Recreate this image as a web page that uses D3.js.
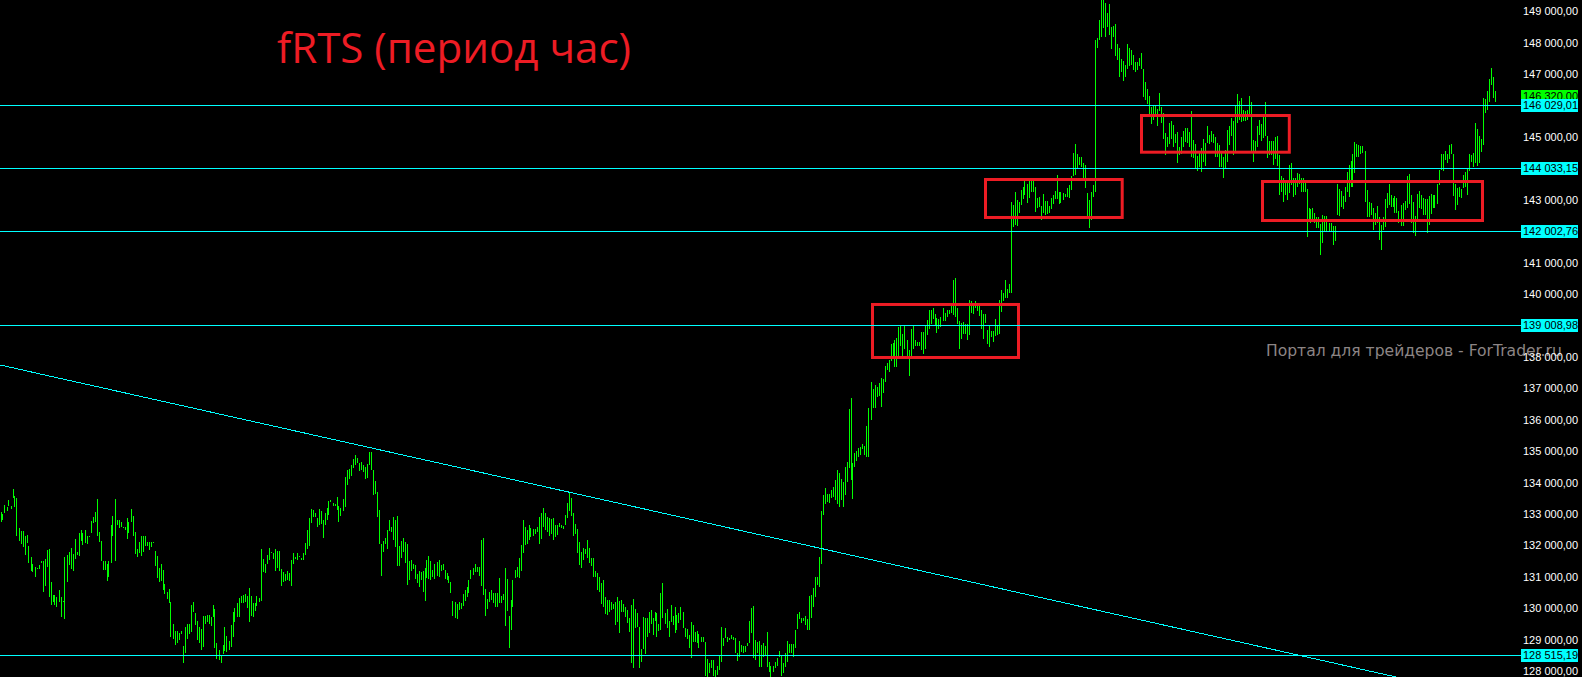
<!DOCTYPE html>
<html>
<head>
<meta charset="utf-8">
<script src="https://cdn.jsdelivr.net/npm/d3@7"></script>
<style>
  html, body { margin: 0; padding: 0; background: #000; overflow: hidden; }
  svg { display: block; }
</style>
</head>
<body>
<svg id="chart" width="1582" height="677"></svg>
<script>
// fRTS hourly bars: high and low of each bar, oldest first
const highs = [
  133070,133000,133290,133240,133450,133260,133790,133580,133530,132550,
  132470,132450,132300,132340,131990,131650,131430,131310,131300,131380,
  131520,131520,131580,131860,131890,130830,130440,130430,130370,130590,
  130350,130240,131650,131700,131800,131910,131730,132200,131790,132410,
  132500,132410,132500,132300,132300,132780,132900,133070,133480,132430,
  132160,131510,131520,131410,131510,132650,132940,133480,132810,132810,
  132750,132600,132580,132870,132760,133180,132940,132420,131890,132120,
  132300,132300,132300,132120,132120,132120,132110,131830,131680,131300,
  131410,131220,130780,130530,130620,130200,129500,129290,129280,129230,
  129270,128800,129400,129500,129500,130110,130190,129860,129600,129420,
  129340,129760,129760,129790,129790,129740,130110,129980,128890,128680,
  128500,128830,129410,129120,128970,129470,129890,130000,130160,130330,
  130390,130430,130460,130410,130650,130410,130180,130180,130390,130340,
  131890,131570,131430,131690,131930,131790,131750,131890,131830,131830,
  131270,131170,131090,131190,131140,131540,131750,131650,131750,131670,

  131620,131780,132070,132500,132880,133170,133130,133030,132880,133170,
  133100,132820,133030,133190,133420,133450,133350,133330,133560,133260,
  133190,133480,134190,134410,134440,134570,134760,134880,134780,134620,
  134660,134570,134510,134600,134980,134980,134410,134060,133710,133130,
  132050,132150,132240,132510,132820,132600,132900,132820,132940,131990,
  132150,132240,132130,132050,131520,131540,131410,131380,131100,131190,
  131150,131200,131300,131540,131670,131510,131240,131410,131490,131540,
  131380,131400,131220,131120,131040,130840,130240,130210,130140,130190,
  130180,130460,130590,130690,130910,131240,131300,131400,131330,131310,
  132180,132250,130610,130300,130520,130590,130480,130480,130480,130960,
  130400,130450,131280,130940,129760,130270,130910,131220,131330,131620,
  132020,132820,132600,132500,132660,132570,132540,132530,132600,132920,
  133050,133200,133050,132920,132880,132860,132870,132660,132660,132710,
  132660,132630,132990,133350,133700,133500,133030,132690,132520,132100,
  131800,131910,131890,132180,131910,131610,131610,131190,131120,131010,

  130820,130910,130350,130270,130270,130220,130140,130220,130360,130250,
  130270,130140,130060,129950,129690,130110,130290,129970,129870,129420,
  128710,129740,129710,129690,129900,129950,129710,129880,129850,129510,
  130480,130820,129850,129980,129610,130110,129770,130060,129780,129850,
  130060,129900,129370,129340,129160,129560,129480,129260,129280,129180,
  129080,129080,128920,128380,128280,128360,128360,128040,128170,128520,
  129400,129050,129370,129100,129070,129160,129100,129050,128570,128970,
  128840,128790,128790,128890,129600,130000,130080,128990,128940,128970,
  128840,128890,128820,129260,128310,128170,128180,128310,128430,128650,
  128520,128250,128590,128980,128870,128870,128870,129320,129830,129880,
  129690,129710,129770,129660,130400,130430,130640,131010,131010,131630,
  133100,133610,133830,133640,133640,133770,133860,134090,134410,134320,
  134110,134010,134510,134650,136350,136690,134640,134940,135020,135100,
  135150,135240,135180,135810,136370,137220,136980,137110,137040,137170,
  137330,137300,137720,137800,137910,138420,138460,138530,138610,138970,

  139020,138750,138990,138540,138220,138890,138990,138540,138490,138490,
  138800,138800,138990,139180,139500,139500,139570,139370,139260,139200,
  139280,139550,139390,139500,139500,139650,140460,140510,139570,139150,
  139090,139110,139050,139050,139810,139780,139710,139780,139620,139620,
  139500,139360,139370,138860,138990,138840,138830,139210,138990,139810,
  140130,140030,140460,140180,140340,142950,
  142850,143270,143000,142950,143320,143410,143590,143510,143590,143610,
  143590,143430,143080,143110,142810,143200,142970,142970,142810,143060,
  143160,143290,143800,143240,143240,143220,143200,143380,143480,143750,
  144510,144790,144470,144380,144360,144170,144120,143220,143000,143250,
  143470,148100,148150,148730,
  149400,149400,149260,148950,149240,148520,148540,148610,147970,147830,
  147480,147430,147300,147970,147830,147780,147620,147400,147380,147510,
  147670,147160,146750,146530,146310,145970,145990,145990,145890,146400,
  145950,145760,145130,145020,145440,145530,145390,145100,145180,144700,
  145020,145200,145300,145300,145160,145840,144910,144790,144400,144490,

  144650,144950,144830,145360,145070,145200,145100,145000,144810,144750,
  144490,
  144380,144600,145230,145360,145600,145520,145990,146380,146150,146240,
  145870,145820,145870,146310,146130,144910,144880,145360,145550,145420,
  145630,146110,145040,144880,144880,144880,144990,145040,144440,143750,
  143690,143530,143640,144120,144170,143690,143690,143850,143830,143690,
  143690,143560,143340,142740,142720,142740,142580,142450,142450,142240,
  142530,142490,142490,142260,142260,142160,142160,143510,143340,143290,
  143130,143410,143900,144120,144250,144460,144840,144780,144750,144720,
  144720,144560,143320,142930,142900,142740,142580,142810,142450,142210,
  142470,
  143030,143220,143510,143160,143080,143130,143080,142650,142840,142900,
  142980,143770,143830,143160,142950,142490,143180,143290,143160,143080,
  143030,143030,143130,143180,143160,143160,143510,143960,144460,144460,
  144560,144470,144750,144790,144460,143510,143370,143410,143350,143800,
  143900,143980,144460,144440,144510,145440,145260,145040,144940,146260,
  146210,146470,146860,147210,146930,146470
];

const lows = [
  132760,132810,133050,133110,133260,133170,133520,133240,132300,132160,
  132050,131970,131700,132090,131460,131200,131170,131010,131260,131270,
  131460,130530,130720,131330,130350,130120,130220,130110,130060,130210,
  129740,130200,129670,130850,131380,131270,131200,131570,131700,131680,
  132160,132020,132070,132050,132280,132410,132710,132760,132300,132120,
  131520,131220,131240,130880,131010,131460,132300,131510,132650,132550,
  132580,132550,132500,132220,132410,132760,132300,131730,131630,131770,
  131680,131800,131990,131990,131860,131970,132090,131350,130980,130850,
  130880,130590,130460,130300,130180,129100,129030,128850,128910,129000,
  129190,128250,128590,129020,129190,129260,129880,129470,129000,128890,
  128680,128780,129500,129580,129490,129440,129740,128750,128390,128360,
  128250,128540,128650,128610,128680,128780,129100,129580,129720,129740,
  130180,130160,130190,130010,129580,129760,129720,129930,130090,130200,
  130250,131170,131120,131410,131540,131750,131580,131200,131290,131200,
  130720,130850,130880,130900,130880,130720,131410,131560,131540,131650,

  131540,131540,131700,131890,131990,132710,132900,132900,132590,132660,
  132690,132240,132660,132820,132970,133390,133260,133260,133130,132750,
  132940,133110,133240,133930,134110,134230,134480,134570,134620,134370,
  134410,134330,134120,134140,134570,134410,133610,133630,132920,132050,
  131040,131810,132050,131890,132480,132440,132180,131970,131360,131360,
  131620,131790,131440,130750,130910,131200,131260,130940,130800,130690,
  130910,130520,130240,130980,130940,130910,131010,130940,131040,131010,
  131200,131220,130940,130910,130820,130500,129770,129710,129650,129950,
  129990,130090,130250,130370,130500,130930,131060,131170,131170,131040,
  130730,130440,129770,129980,130220,130270,130160,130060,130060,130160,
  130160,130270,129450,129930,128750,129310,130060,130960,131010,130960,
  131200,131780,132020,132050,132180,132260,132300,132370,132440,132050,
  132200,132580,132500,132440,132320,132370,132180,132280,132340,132580,
  132550,132520,132660,132870,133110,132940,132310,132370,131780,131380,
  131300,131540,131730,131620,131440,131350,131010,130990,130590,130530,

  130140,130060,129830,129790,129900,129950,129980,129470,129580,129210,
  129900,129900,129740,129530,129260,128250,128120,129370,129400,128100,
  128310,128700,128540,129100,129230,129500,129160,129610,129100,129290,
  129320,129710,129510,129370,129100,129580,129470,129230,129320,129530,
  129630,129370,129100,129020,128730,128430,128940,128940,128890,128730,
  128920,128920,127860,127830,127960,128120,127860,127830,127880,128040,
  128310,128790,129050,128920,128990,129030,128990,128570,128340,128470,
  128630,128570,128600,128790,128890,129210,128410,128360,128570,128150,
  128150,128470,128520,128150,127990,127830,127990,128100,128170,128470,
  127850,127940,128150,128310,128570,128590,128470,128750,129350,129670,
  129550,129600,129470,129320,129320,129710,130060,130350,130750,130670,
  131410,132980,133330,133400,133350,133510,133540,133450,133330,133220,
  133450,133240,133610,134040,134480,134090,133490,134510,134700,134830,
  134870,135070,134890,134830,134830,136000,136390,136390,136720,136760,
  136420,136870,137220,137590,137540,137890,137960,137700,137680,138020,

  138350,138030,138270,138010,137400,138010,138270,138350,138350,138350,
  138240,138090,138270,138700,138880,139040,139200,139000,138770,138880,
  138960,139160,139160,139280,139370,139390,139340,139280,139040,138250,
  138590,138750,138730,138540,138700,139390,139360,139550,139460,139310,
  138900,138570,139070,138430,138330,138630,138470,138670,138700,138750,
  139440,139790,139890,139870,140030,140050,
  142150,142210,142180,142580,142840,143020,143160,142920,143060,143270,
  143240,142630,142740,142790,142370,142580,142530,142560,142580,142710,
  142880,143020,143020,142880,142920,143000,143090,143110,143060,143320,
  143770,143800,144010,144100,144060,143690,143380,142420,142100,142370,
  143090,143240,147850,148100,
  148180,148490,148180,148520,148260,147800,148180,147590,147460,146900,
  147060,146800,146900,147160,147250,147300,147140,147090,147140,147250,
  147160,146270,146170,146060,145740,145420,145550,145710,145360,145820,
  145460,144940,144440,144700,144790,144940,144700,144810,144190,144440,
  144460,144700,144860,144810,144700,144380,144330,144010,143910,144060,

  143900,144220,144090,144810,144790,144840,144830,144380,144380,144040,
  144060,
  143690,143990,144220,144750,145040,144440,144490,145440,145550,145480,
  145500,145520,145550,145710,144540,144220,144540,144700,145070,144890,
  144970,145040,144330,144440,144440,144120,144300,144070,143160,143270,
  142950,143160,143000,143220,143480,143110,143160,143430,143510,143270,
  143270,143270,141810,142290,142260,142350,142260,142120,142120,141250,
  141620,142000,142000,142000,142000,141570,141680,142530,142490,142790,
  142710,142950,143270,143110,143400,143400,143870,144380,144380,144460,
  144490,142950,142470,142470,142530,142050,142210,142260,141730,141410,
  142050,
  142150,142740,142840,142790,142790,142600,142580,142280,142180,142180,
  142690,142740,142880,142260,141960,141860,142390,142740,142720,142530,
  142530,141960,142210,142560,142760,142760,142880,143480,143960,143930,
  144280,144190,144300,144470,143130,142690,142840,143110,143080,143380,
  143430,143160,143930,144220,144040,144170,144090,144170,144540,144750,
  145760,145870,146130,146660,146240,146130
];

// Horizontal support / resistance levels
const levels = [146029.01, 144033.15, 142002.76, 139008.98, 128515.19];
// Last traded price
const lastPrice = 146320;
// Price scale grid
const priceTicks = d3.range(128000, 149001, 1000);
// Falling trend line, anchored by bar index and price
const trendAnchors = [{ bar: 0, price: 137743 }, { bar: 698, price: 127813 }];
// Consolidation zones: bar span and price span
const zones = [
  { from: 435.75, to: 508.75, hi: 139675, lo: 137988 },
  { from: 492.25, to: 560.6,  hi: 143653, lo: 142444 },
  { from: 570.25, to: 644.15, hi: 145690, lo: 144522 },
  { from: 630.75, to: 740.75, hi: 143589, lo: 142348 }
];
const titleText = "fRTS (период час)";
const watermarkText = "Портал для трейдеров - ForTrader.ru";

// ---------- layout ----------
const W = 1582, H = 677;
const plotRight = 1508;
const axisX = 1521;
const barColor = "#00ff00";
const lineColor = "#00ffff";
const zoneColor = "#ed1c24";

const svg = d3.select("#chart");
svg.append("rect").attr("width", W).attr("height", H).attr("fill", "#000");

const N = highs.length;
const x = d3.scaleLinear().domain([0, N]).range([1, 1 + 2 * N]);
const y = d3.scaleLinear().domain([128000, 149000]).range([671.3, 11.5]);

svg.append("defs").append("clipPath").attr("id", "plot")
  .append("rect").attr("x", 0).attr("y", 0).attr("width", plotRight).attr("height", H);

const plot = svg.append("g").attr("clip-path", "url(#plot)");

// Bars
const bars = d3.range(N).map(i => ({ i, hi: highs[i], lo: lows[i] }));
plot.append("g").attr("shape-rendering", "crispEdges")
  .selectAll("rect").data(bars).join("rect")
  .attr("x", d => Math.floor(x(d.i)))
  .attr("y", d => Math.round(y(d.hi)))
  .attr("width", 1)
  .attr("height", d => Math.max(1, Math.round(y(d.lo)) - Math.round(y(d.hi))))
  .attr("fill", barColor);

// Trend line extended across the plot
const tSlope = (trendAnchors[1].price - trendAnchors[0].price) / (trendAnchors[1].bar - trendAnchors[0].bar);
const tPrice = b => trendAnchors[0].price + (b - trendAnchors[0].bar) * tSlope;
const bStart = x.invert(0), bEnd = x.invert(plotRight);
plot.append("line")
  .attr("x1", 0).attr("y1", y(tPrice(bStart)))
  .attr("x2", plotRight).attr("y2", y(tPrice(bEnd)))
  .attr("stroke", lineColor).attr("stroke-width", 1)
  .attr("shape-rendering", "crispEdges");

// Horizontal levels
svg.append("g").attr("shape-rendering", "crispEdges")
  .selectAll("line").data(levels).join("line")
  .attr("x1", 0).attr("x2", axisX)
  .attr("y1", d => Math.round(y(d)) + 0.5)
  .attr("y2", d => Math.round(y(d)) + 0.5)
  .attr("stroke", lineColor).attr("stroke-width", 1);

// Zones
plot.append("g").selectAll("rect").data(zones).join("rect")
  .attr("x", d => x(d.from))
  .attr("y", d => y(d.hi))
  .attr("width", d => x(d.to) - x(d.from))
  .attr("height", d => y(d.lo) - y(d.hi))
  .attr("fill", "none")
  .attr("stroke", zoneColor)
  .attr("stroke-width", 3);

// Title
const title = svg.append("text")
  .attr("x", 277).attr("y", 63)
  .attr("fill", zoneColor)
  .style("font-family", "'Open Sans', 'Noto Sans', sans-serif")
  .style("font-size", "40px")
  .text(titleText);
fitWidth(title, 354, 40);

// Watermark
const wm = svg.append("text")
  .attr("x", 1266).attr("y", 356)
  .attr("fill", "#8c8585")
  .style("font-family", "'DejaVu Sans', sans-serif")
  .style("font-size", "16px")
  .text(watermarkText);
fitWidth(wm, 296, 16);

function fitWidth(sel, target, size) {
  const w = sel.node().getComputedTextLength();
  if (w > 0) sel.style("font-size", (size * target / w).toFixed(2) + "px");
}

// Price axis
const fmtLocale = d3.formatLocale({ decimal: ",", thousands: " ", grouping: [3], currency: ["", ""] });
const fmt = fmtLocale.format(",.2f");
const tagged = levels.concat([lastPrice]);
const visibleTicks = priceTicks.filter(t => tagged.every(l => Math.abs(y(t) - y(l)) > 12));

const axisFont = "'Liberation Sans', Arial, sans-serif";
svg.append("g").selectAll("text").data(visibleTicks).join("text")
  .attr("x", axisX + 2)
  .attr("y", d => y(d))
  .attr("dy", "0.35em")
  .attr("fill", "#ffffff")
  .style("font-family", axisFont)
  .style("font-size", "11px")
  .text(d => fmt(d));

// Price tags
const tags = [{ v: lastPrice, bg: barColor }].concat(levels.map(v => ({ v, bg: lineColor })));
const tagG = svg.append("g").selectAll("g").data(tags).join("g")
  .attr("transform", d => `translate(${axisX},${Math.round(y(d.v)) - 6})`);
tagG.append("rect")
  .attr("width", 57).attr("height", 13)
  .attr("fill", d => d.bg)
  .attr("shape-rendering", "crispEdges");
tagG.append("text")
  .attr("x", 2).attr("y", 6.5).attr("dy", "0.35em")
  .attr("fill", "#000")
  .style("font-family", axisFont)
  .style("font-size", "11px")
  .text(d => fmt(d.v));
</script>
</body>
</html>
